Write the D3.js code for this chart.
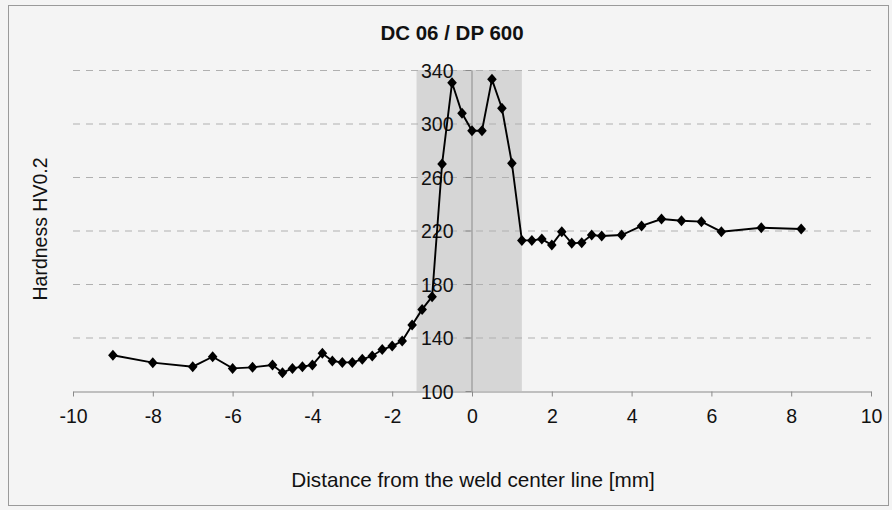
<!DOCTYPE html>
<html>
<head>
<meta charset="utf-8">
<script src="https://cdn.jsdelivr.net/npm/d3@7"></script>
<style>
  html, body { margin: 0; padding: 0; background: #f4f4f4; }
  svg { display: block; }
  .tick-label { font-family: "Liberation Sans", Arial, sans-serif; font-size: 19.5px; fill: #111; }
</style>
</head>
<body>
<svg id="chart" width="892" height="510"></svg>
<script>
// ---- Data ----
const chartTitle = "DC 06 / DP 600";
const xTitle = "Distance from the weld center line [mm]";
const yTitle = "Hardness HV0.2";

const distance = [-9, -8, -7, -6.5, -6, -5.5, -5, -4.75, -4.5, -4.25, -4, -3.75, -3.5, -3.25, -3, -2.75, -2.5, -2.25, -2, -1.75, -1.5, -1.25, -1, -0.75, -0.5, -0.25, 0, 0.25, 0.5, 0.75, 1, 1.25, 1.5, 1.75, 2, 2.25, 2.5, 2.75, 3, 3.25, 3.75, 4.25, 4.75, 5.25, 5.75, 6.25, 7.25, 8.25];
const hardness = [126.7, 121.2, 118.2, 125.6, 116.9, 117.7, 119.4, 113.7, 116.9, 118.2, 119.4, 128.2, 122.4, 121.4, 121.4, 123.7, 126.2, 131.0, 133.6, 137.4, 149.3, 161.0, 170.5, 269.7, 330.5, 307.6, 294.6, 294.6, 333.0, 311.4, 270.2, 212.6, 212.6, 213.6, 209.2, 219.1, 210.4, 210.9, 216.6, 215.9, 216.6, 223.4, 228.6, 227.3, 226.6, 219.1, 222.1, 221.1];

const xTicks = [-10, -8, -6, -4, -2, 0, 2, 4, 6, 8, 10];
const yTicks = [100, 140, 180, 220, 260, 300, 340];
const weldZone = [-1.39, 1.25];   // shaded region (mm)

// ---- Layout ----
const svg = d3.select("#chart");
const x = d3.scaleLinear().domain([-10, 10]).range([73, 871]);
const y = d3.scaleLinear().domain([100, 340]).range([391, 70]);

// outer border
svg.append("rect").attr("x", 8.5).attr("y", 5.5).attr("width", 880).attr("height", 500)
  .attr("fill", "none").attr("stroke", "#9a9a9a").attr("stroke-width", 1);

// weld zone shading
svg.append("rect")
  .attr("x", x(weldZone[0])).attr("y", y(340))
  .attr("width", x(weldZone[1]) - x(weldZone[0]))
  .attr("height", y(100) - y(340))
  .attr("fill", "#d6d6d6");

// dashed gridlines
svg.append("g").selectAll("line").data(yTicks.filter(d => d > 100)).join("line")
  .attr("x1", x(-10)).attr("x2", x(10))
  .attr("y1", d => y(d) + 0.5).attr("y2", d => y(d) + 0.5)
  .attr("stroke", "#b0b0b0").attr("stroke-width", 1).attr("stroke-dasharray", "7,6");

// x axis
const xAxis = d3.axisBottom(x).tickValues(xTicks).tickSize(5).tickSizeOuter(0).tickFormat(d3.format("d"));
const gx = svg.append("g").attr("transform", `translate(0,${y(100) + 0.5})`).call(xAxis);
gx.select(".domain").attr("stroke", "#8a8a8a");
gx.selectAll(".tick line").attr("stroke", "#8a8a8a");
gx.selectAll(".tick text").attr("class", "tick-label").attr("dy", null).attr("y", 31)
  .text(d => d < 0 ? "-" + Math.abs(d) : d);

// y axis at x = 0
const yAxis = d3.axisLeft(y).tickValues(yTicks).tickSize(6).tickSizeOuter(0).tickFormat(d3.format("d"));
const gy = svg.append("g").attr("transform", `translate(${x(0) - 0.5},0)`).call(yAxis);
gy.select(".domain").attr("stroke", "#8a8a8a");
gy.selectAll(".tick line").attr("stroke", "#8a8a8a");
gy.selectAll(".tick text").attr("class", "tick-label").attr("x", -18).attr("dy", "0.36em");

// data line
const pts = distance.map((d, i) => [d, hardness[i]]);
svg.append("path").datum(pts)
  .attr("fill", "none").attr("stroke", "#000").attr("stroke-width", 1.9)
  .attr("d", d3.line().x(d => x(d[0])).y(d => y(d[1])));

// diamond markers
const r = 5.5;
svg.append("g").selectAll("path").data(pts).join("path")
  .attr("transform", d => `translate(${x(d[0])},${y(d[1])})`)
  .attr("d", `M0,${-r}L${r - 0.7},0L0,${r}L${-(r - 0.7)},0Z`)
  .attr("fill", "#000");

// titles
svg.append("text").attr("x", 452).attr("y", 40).attr("text-anchor", "middle")
  .attr("font-family", "'Liberation Sans', Arial, sans-serif")
  .attr("font-weight", "bold").attr("font-size", 20.5).attr("fill", "#111").text(chartTitle);

svg.append("text").attr("x", 473).attr("y", 487).attr("text-anchor", "middle")
  .attr("font-family", "'Liberation Sans', Arial, sans-serif")
  .attr("font-size", 20.7).attr("fill", "#111").text(xTitle);

svg.append("text").attr("transform", "translate(47,229) rotate(-90)").attr("text-anchor", "middle")
  .attr("font-family", "'Liberation Sans', Arial, sans-serif")
  .attr("font-size", 19.5).attr("fill", "#111").text(yTitle);
</script>
</body>
</html>
